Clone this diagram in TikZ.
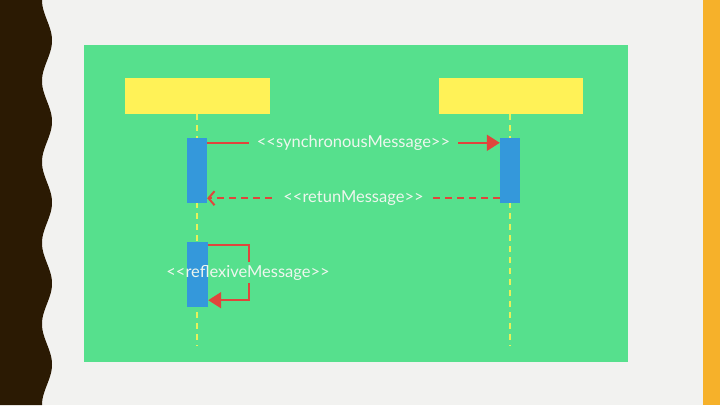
\documentclass[tikz,border=0pt]{standalone}
\usepackage{fontspec}
\setmainfont{Lato}
\usetikzlibrary{arrows.meta,calc}
\definecolor{bgc}{HTML}{F2F2F0}
\definecolor{brownc}{HTML}{2B1A03}
\definecolor{orangec}{HTML}{F6B12A}
\definecolor{greenc}{HTML}{56E08D}
\definecolor{yellowc}{HTML}{FFF257}
\definecolor{bluec}{HTML}{3498DB}
\definecolor{redc}{HTML}{E0453C}
\definecolor{lifec}{HTML}{E8F05A}
\definecolor{textc}{HTML}{EEF6EE}
\begin{document}
\begin{tikzpicture}[x=1pt,y=-1pt,
  header/.style={fill=yellowc,draw=none,minimum width=145pt,minimum height=36pt,inner sep=0pt},
  actbox/.style={fill=bluec,draw=none,minimum width=20pt,minimum height=65pt,inner sep=0pt},
  lifeline/.style={draw=lifec,line width=2pt,dash pattern=on 6pt off 5pt},
  msg/.style={draw=redc,line width=2pt},
  msgfont/.style={font=\fontsize{16.5}{18}\selectfont,text=textc},
  msglabel/.style={msgfont,fill=greenc,inner xsep=8pt,inner ysep=2pt},
  fillhead/.style={-{Triangle[length=13pt,width=16pt,fill=redc]}},
  openhead/.style={-{Straight Barb[length=6pt,width=14pt,line width=2pt]}}
]
\useasboundingbox (0,0) rectangle (720,405);
\fill[bgc] (0,0) rectangle (720,405);
\fill[brownc] (0,0) -- plot[domain=0:405,samples=300,smooth] ({47-5*cos(\x/81*360)},\x) -- (0,405) -- cycle;
\fill[orangec] (703,0) rectangle (720,405);
\fill[greenc] (84,45) rectangle (628,362);

\node[header] (h1) at (197.5,96) {};
\node[header,minimum width=144pt] (h2) at (511,96) {};
\coordinate (e1) at (197,346);
\coordinate (e2) at (510,346);
\draw[lifeline] (h1.south -| e1) -- (e1);
\draw[lifeline] (h2.south -| e2) -- (e2);

\node[actbox] (a1) at (197,170.5) {};
\node[actbox] (b1) at (510,170.5) {};
\node[actbox,minimum width=21pt] (a2) at (197.5,274.5) {};

\draw[msg,fillhead] ($(a1.north east)+(0,5)$) -- node[msglabel] (l1) {<{}<synchronousMessage>{}>} ($(b1.north west)+(0,5)$);
\draw[msg,dashed,dash pattern=on 7pt off 5pt,openhead] ($(b1.south west)+(0,-5)$) -- node[msglabel] (l2) {<{}<retunMessage>{}>} ($(a1.south east)+(0,-5)$);

\coordinate (r1) at ($(a2.north east)+(41,3)$);
\coordinate (r2) at ($(a2.north east)+(41,20)$);
\coordinate (r3) at ($(a2.north east)+(41,41)$);
\coordinate (r4) at ($(a2.south east)+(41,-7)$);
\draw[msg] ($(a2.north east)+(0,3)$) -- (r1) -- (r2);
\draw[msg,fillhead] (r3) -- (r4) -- ($(a2.south east)+(0,-7)$);
\node[msgfont,inner sep=0pt] (l3) at (248,273) {<{}<reflexiveMessage>{}>};
\end{tikzpicture}
\end{document}
